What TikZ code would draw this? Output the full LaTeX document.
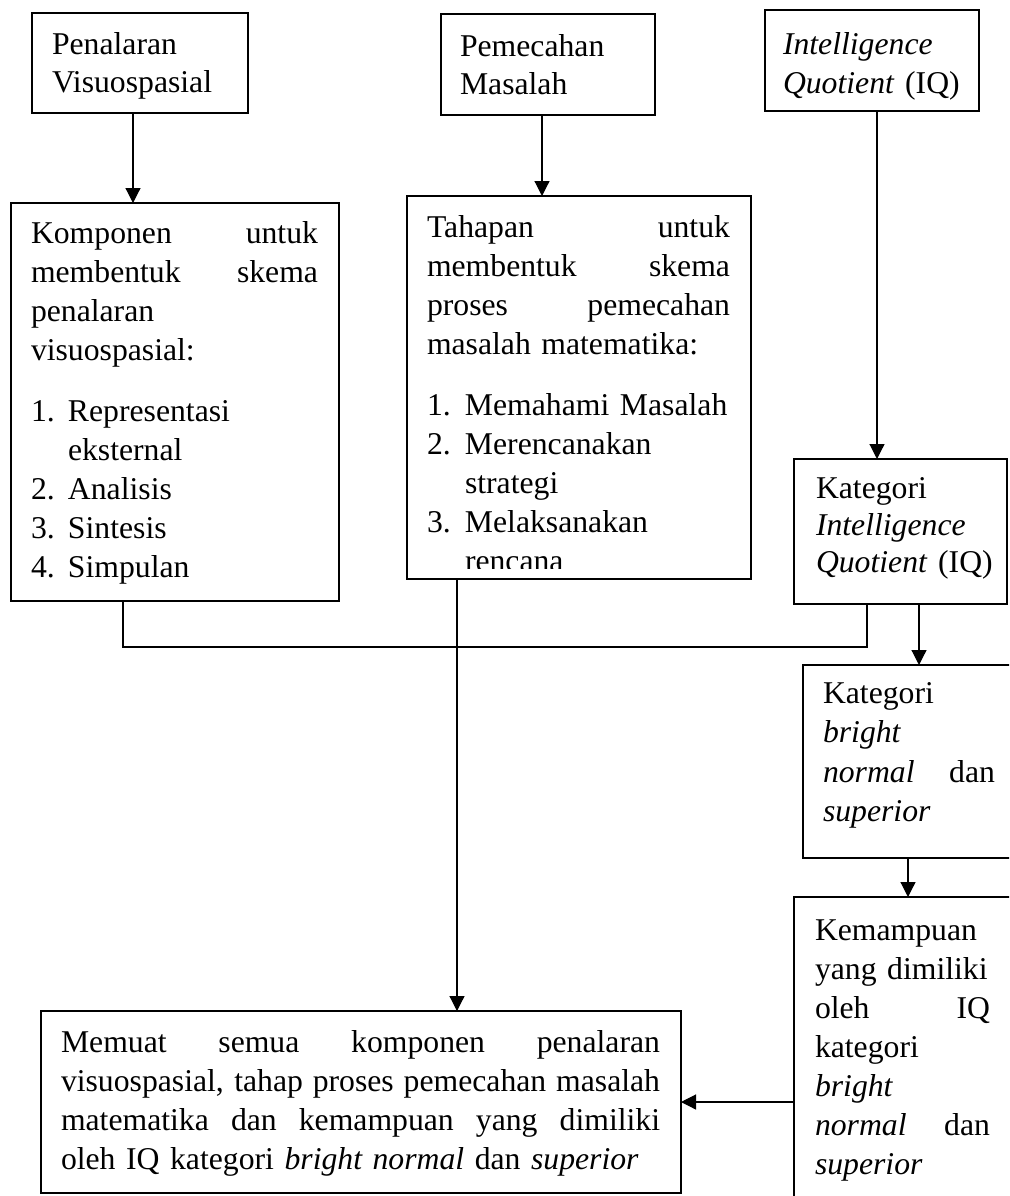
\documentclass[tikz,border=0pt]{standalone}
\usepackage{fontspec}
\setmainfont{Liberation Serif}
\usetikzlibrary{arrows.meta}
\setlength{\parindent}{0pt}
% justified line of a given width (pt): every interword space stretches evenly
\newcommand\jl[2]{\leavevmode\hbox to #1pt{\spaceskip=0.25em plus 1fil\relax #2}}
% fixed first-line height so the first baseline sits 24pt below the node top
\newcommand\fl{\leavevmode\rule{0pt}{24pt}}
% list label of a given width
\newcommand\itm[2]{\makebox[#1pt][l]{#2}}

\begin{document}
\begin{tikzpicture}[x=1pt,y=-1pt,
  frame/.style={draw, line width=1.3pt, anchor=north west, inner sep=0pt, outer sep=0pt},
  txt/.style={anchor=north west, inner sep=0pt, outer sep=0pt, align=left,
              font=\fontsize{31.7}{39}\selectfont},
  link/.style={line width=1.2pt},
  arr/.style={link, -{Triangle[length=15pt,width=15pt]}}]

\useasboundingbox (0,0) rectangle (1009,1196);
\fill[white] (0,0) rectangle (1009,1196);
\clip (0,0) rectangle (1009,1196);

% frames
\node[frame, minimum width=216pt, minimum height=100pt] (A) at (32,13) {};
\node[frame, minimum width=214pt, minimum height=101pt] (B) at (441,14) {};
\node[frame, minimum width=214pt, minimum height=101pt] (C) at (765,10) {};
\node[frame, minimum width=328pt, minimum height=398pt] (D) at (11,203) {};
\node[frame, minimum width=344pt, minimum height=383pt] (E) at (407,196) {};
\node[frame, minimum width=213pt, minimum height=145pt] (F) at (794,459) {};
\node[frame, minimum width=212pt, minimum height=193pt] (G) at (803,665) {};
\node[frame, minimum width=217pt, minimum height=340pt] (H) at (794,897) {};
\node[frame, minimum width=640pt, minimum height=182pt] (I) at (41,1011) {};

% texts
\node[txt, text width=190pt, font=\fontsize{31.7}{38}\selectfont] (tA) at (52,31)
  {\fl Penalaran\\Visuospasial};
\node[txt, text width=190pt, font=\fontsize{31.7}{38}\selectfont] (tB) at (460,33)
  {\fl Pemecahan\\Masalah};
\node[txt, text width=190pt] (tC) at (783,31)
  {\fl\textit{Intelligence}\\\textit{Quotient} (IQ)};

\node[txt, text width=287pt] (tD) at (31,219)
  {\fl\jl{287}{Komponen untuk}\\
   \jl{287}{membentuk skema}\\
   penalaran\\
   visuospasial:\\[22pt]
   \itm{37}{1.}Representasi\\
   \hspace*{37pt}eksternal\\
   \itm{37}{2.}Analisis\\
   \itm{37}{3.}Sintesis\\
   \itm{37}{4.}Simpulan};

\begin{scope}
  \clip (407,196) rectangle (751,568);
  \node[txt, text width=303pt] (tE) at (427,213)
    {\fl\jl{303}{Tahapan untuk}\\
     \jl{303}{membentuk skema}\\
     \jl{303}{proses pemecahan}\\
     masalah matematika:\\[22pt]
     \itm{38}{1.}Memahami Masalah\\
     \itm{38}{2.}Merencanakan\\
     \hspace*{38pt}strategi\\
     \itm{38}{3.}Melaksanakan\\
     \hspace*{38pt}rencana};
\end{scope}

\node[txt, text width=185pt, font=\fontsize{31.7}{37}\selectfont] (tF) at (816,474)
  {\fl Kategori\\\textit{Intelligence}\\\textit{Quotient} (IQ)};

\node[txt, text width=172pt, font=\fontsize{31.7}{39.5}\selectfont] (tG) at (823,679)
  {\fl Kategori\\\textit{bright}\\\jl{172}{\textit{normal} dan}\\\textit{superior}};

\node[txt, text width=175pt] (tH) at (815,916)
  {\fl Kemampuan\\yang dimiliki\\\jl{175}{oleh IQ}\\kategori\\\textit{bright}\\
   \jl{175}{\textit{normal} dan}\\\textit{superior}};

\node[txt, text width=599pt] (tI) at (61,1028)
  {\fl\jl{599}{Memuat semua komponen penalaran}\\
   \jl{599}{visuospasial, tahap proses pemecahan masalah}\\
   \jl{599}{matematika dan kemampuan yang dimiliki}\\
   oleh IQ kategori \textit{bright normal} dan \textit{superior}};

% connectors
\draw[arr] ([xshift=-7pt]A.south) -- ([xshift=-7pt]A.south |- D.north);
\draw[arr] ([xshift=-6pt]B.south) -- ([xshift=-6pt]B.south |- E.north);
\draw[arr] ([xshift=5pt]C.south) -- ([xshift=5pt]C.south |- F.north);
\draw[arr] ([xshift=18.5pt]F.south) -- ([xshift=18.5pt]F.south |- G.north);
\draw[arr] ([xshift=-1pt]G.south) -- ([xshift=-1pt]G.south |- H.north);
\draw[link] ([xshift=-52pt]D.south) -- ++(0,46) -| ([xshift=-33.5pt]F.south);
\draw[arr] ([xshift=-122pt]E.south) -- ([xshift=-122pt]E.south |- I.north);
\draw[arr] (I.east -| H.west) -- (I.east);
\end{tikzpicture}
\end{document}
